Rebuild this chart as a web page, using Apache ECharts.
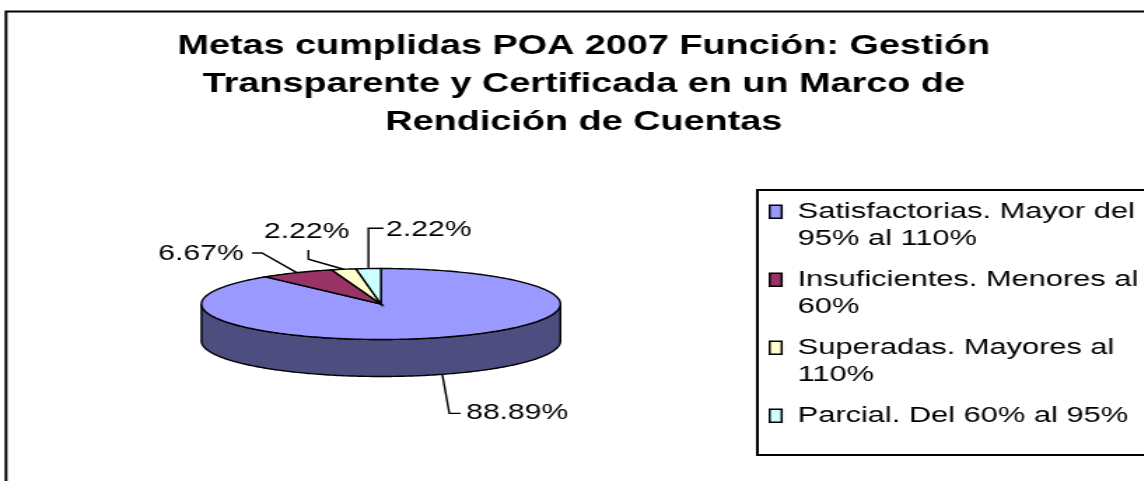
<!DOCTYPE html>
<html>
<head>
<meta charset="utf-8">
<script src="https://cdn.jsdelivr.net/npm/echarts@6/dist/echarts.min.js"></script>
<style>
  html, body { margin: 0; padding: 0; background: #fff; overflow: hidden; }
  #wrap { width: 1144px; height: 481px; overflow: hidden; position: relative; background: #fff; }
  #main { width: 817px; height: 481px; transform: scaleX(1.4); transform-origin: 0 0; }
</style>
</head>
<body>
<div id="wrap"><div id="main"></div></div>
<script>
// ---- data ----
const titleText = 'Metas cumplidas POA 2007 Función: Gestión\nTransparente y Certificada en un Marco de\nRendición de Cuentas';
const categories = [
  'Satisfactorias. Mayor del 95% al 110%',
  'Insuficientes. Menores al 60%',
  'Superadas. Mayores al 110%',
  'Parcial. Del 60% al 95%'
];
const legendLines = [
  'Satisfactorias. Mayor del\n95% al 110%',
  'Insuficientes. Menores al\n60%',
  'Superadas. Mayores al\n110%',
  'Parcial. Del 60% al 95%\n '
];
const values = [88.89, 6.67, 2.22, 2.22];

// ---- styles / layout ----
const topColors = ['#9999FF', '#993366', '#FFFFCC', '#CCFFFF'];
const sideColors = ['#4D4D80', '#4D1A33', '#808066', '#668080'];
const FONT = "'Liberation Sans', Arial, sans-serif";
const PIE = { cx: 272.1, cy: 304, rx: 128.2, ry: 35.5, depth: 37 };
const LEGEND_BOX = { x: 541, y: 190, h: 265 };
// leader line offsets relative to the slice anchor (layout only)
const labelLayout = [
  { d1: [5, 39],        d2: [8, 0],    t: [4, 0],       align: 'left' },
  { d1: [-24.8, -19.7], d2: [-7.1, 0], t: [-6, 1.5],    align: 'right' },
  { d1: [-25.2, -10],   d2: [0, -9.3], t: [-1.2, -18.3], align: 'center' },
  { d1: [0, -40.3],     d2: [10.7, 0], t: [2, 1.7],     align: 'left' }
];

const total = values.reduce((a, b) => a + b, 0);

function pt(deg, dy) {
  const r = deg * Math.PI / 180;
  return [PIE.cx + PIE.rx * Math.sin(r), PIE.cy - PIE.ry * Math.cos(r) + (dy || 0)];
}
function arc(from, to, dy) {
  const pts = [];
  const n = Math.max(2, Math.ceil(to - from));
  for (let k = 0; k <= n; k++) pts.push(pt(from + (to - from) * k / n, dy));
  return pts;
}

function makeRender(i) {
  return function (params, api) {
    let start = 0;
    for (let k = 0; k < i; k++) start += values[k];
    const a0 = start / total * 360;
    const a1 = (start + api.value(0)) / total * 360;
    const children = [];
    const s0 = Math.max(a0, 90), s1 = Math.min(a1, 270);
    if (s1 > s0) {
      const topArc = arc(s0, s1, 0);
      const botArc = arc(s0, s1, PIE.depth).reverse();
      children.push({
        type: 'polygon',
        shape: { points: topArc.concat(botArc) },
        style: { fill: sideColors[i], stroke: '#000', lineWidth: 1.4 }
      });
    }
    children.push({
      type: 'polygon',
      shape: { points: [[PIE.cx, PIE.cy]].concat(arc(a0, a1, 0)) },
      style: { fill: topColors[i], stroke: '#000', lineWidth: 1.4 }
    });
    const mid = (a0 + a1) / 2;
    const front = Math.cos(mid * Math.PI / 180) < 0;
    const anchor = pt(mid, front ? PIE.depth : 0);
    const L = labelLayout[i];
    const p1 = [anchor[0] + L.d1[0], anchor[1] + L.d1[1]];
    const p2 = [p1[0] + L.d2[0], p1[1] + L.d2[1]];
    children.push({
      type: 'polyline',
      shape: { points: [anchor, p1, p2] },
      style: { stroke: '#000', lineWidth: 1.4, fill: null }
    });
    children.push({
      type: 'text',
      style: {
        text: api.value(0).toFixed(2) + '%',
        x: p2[0] + L.t[0],
        y: p2[1] + L.t[1],
        align: L.align,
        verticalAlign: 'middle',
        fontSize: 21.5,
        fontFamily: FONT,
        fill: '#000'
      }
    });
    return { type: 'group', children: children };
  };
}

const chart = echarts.init(document.getElementById('main'), null, { renderer: 'canvas' });
chart.setOption({
  animation: false,
  backgroundColor: '#fff',
  title: {
    text: titleText,
    left: 417,
    top: 28,
    textAlign: 'center',
    padding: 0,
    textStyle: { fontFamily: FONT, fontSize: 27, fontWeight: 'bold', color: '#000', lineHeight: 38 }
  },
  legend: {
    orient: 'vertical',
    left: LEGEND_BOX.x,
    top: LEGEND_BOX.y,
    padding: [7.5, 0, 4, 8],
    itemGap: 12.5,
    itemWidth: 15,
    itemHeight: 54,
    icon: 'path://M0,0M0,7H8.6V20H0ZM15,54',
    borderWidth: 0,
    itemStyle: { borderColor: '#000', borderWidth: 1.5 },
    data: categories,
    formatter: function (name) { return legendLines[categories.indexOf(name)]; },
    textStyle: { fontFamily: FONT, fontSize: 22, lineHeight: 27, color: '#000' }
  },
  graphic: [{
    type: 'rect',
    z: -10,
    shape: { x: 4.3, y: 11.5, width: 3000, height: 3000 },
    style: { fill: null, stroke: '#000', lineWidth: 2 }
  }, {
    type: 'rect',
    z: -5,
    shape: { x: LEGEND_BOX.x, y: LEGEND_BOX.y, width: 3000, height: LEGEND_BOX.h },
    style: { fill: '#fff', stroke: '#000', lineWidth: 2 }
  }],
  series: categories.map((name, i) => ({
    type: 'custom',
    name: name,
    coordinateSystem: 'none',
    itemStyle: { color: topColors[i] },
    data: [values[i]],
    renderItem: makeRender(i)
  }))
});
</script>
</body>
</html>
